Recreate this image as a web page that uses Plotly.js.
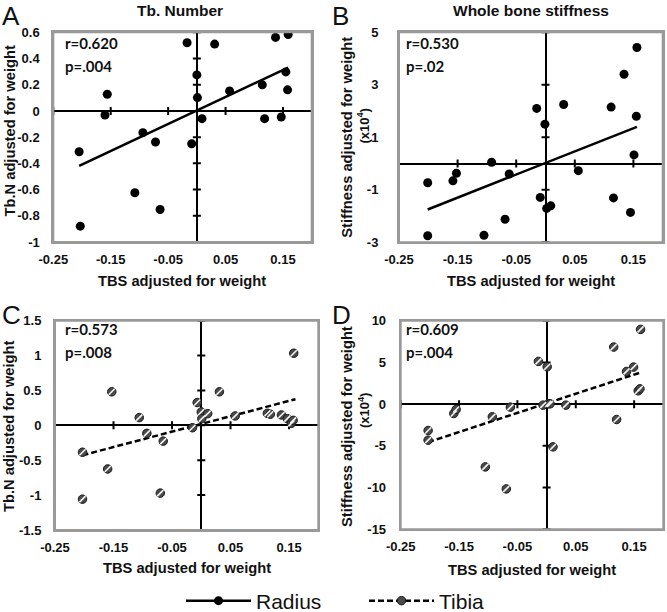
<!DOCTYPE html>
<html><head><meta charset="utf-8">
<script src="https://cdn.plot.ly/plotly-3.0.1.min.js"></script>
<style>html,body{margin:0;padding:0;background:#fff}#chart{width:667px;height:612px}</style>
</head><body><div id="chart"></div><script>
// ---- data ----
const xTicks = [-0.25, -0.15, -0.05, 0.05, 0.15];
const xTickText = ['-0.25', '-0.15', '-0.05', '0.05', '0.15'];

// A: Radius, Tb.N
const xA = [-0.203,-0.205,-0.156,-0.160,-0.094,-0.108,-0.072,-0.064,-0.017,-0.009,0.000,0.001,0.009,0.031,0.057,0.114,0.118,0.137,0.147,0.155,0.158,0.159];
const yA = [-0.879,-0.311,0.127,-0.031,-0.166,-0.624,-0.237,-0.752,0.520,-0.250,0.275,0.102,-0.059,0.510,0.153,0.199,-0.059,0.561,-0.046,0.298,0.161,0.583];
const trendXA = [-0.205, 0.159];
const trendYA = [-0.420, 0.331];
const yTicksA = [-1,-0.8,-0.6,-0.4,-0.2,0,0.2,0.4,0.6];
const yTickTextA = ['-1','-0.8','-0.6','-0.4','-0.2','0','0.2','0.4','0.6'];

// B: Radius, stiffness
const xB = [-0.201,-0.201,-0.158,-0.152,-0.105,-0.092,-0.069,-0.062,-0.015,-0.009,-0.001,0.002,0.009,0.031,0.056,0.112,0.116,0.134,0.145,0.151,0.155,0.156];
const yB = [-0.73,-2.75,-0.66,-0.37,-2.73,0.05,-2.12,-0.40,2.10,-1.29,1.50,-1.71,-1.61,2.25,-0.27,2.15,-1.31,3.40,-1.86,0.33,1.80,4.42];
const trendXB = [-0.201, 0.156];
const trendYB = [-1.75, 1.40];
const yTicksB = [-3,-1,1,3,5];
const yTickTextB = ['-3','-1','1','3','5'];

// C: Tibia, Tb.N
const xC = [-0.203,-0.203,-0.160,-0.153,-0.106,-0.093,-0.070,-0.065,-0.015,-0.007,0.000,0.001,0.011,0.031,0.058,0.113,0.118,0.137,0.147,0.154,0.157,0.158];
const yC = [-1.058,-0.385,-0.625,0.481,0.111,-0.115,-0.971,-0.226,-0.034,0.327,0.192,0.096,0.168,0.481,0.135,0.173,0.159,0.149,0.096,0.029,0.072,1.034];
const trendXC = [-0.203, 0.161];
const trendYC = [-0.428, 0.375];
const yTicksC = [-1.5,-1,-0.5,0,0.5,1,1.5];
const yTickTextC = ['-1.5','-1','-0.5','0','0.5','1','1.5'];

// D: Tibia, stiffness
const xD = [-0.203,-0.203,-0.159,-0.155,-0.105,-0.093,-0.069,-0.062,-0.014,-0.006,0.001,0.003,0.006,0.011,0.033,0.115,0.120,0.137,0.149,0.157,0.160,0.161];
const yD = [-3.16,-4.32,-1.12,-0.64,-7.52,-1.52,-10.16,-0.36,5.12,-0.12,4.48,0.04,0.04,-5.12,-0.12,6.84,-1.84,3.92,4.44,1.60,1.84,8.96];
const trendXD = [-0.203, 0.163];
const trendYD = [-4.56, 3.84];
const yTicksD = [-15,-10,-5,0,5,10];
const yTickTextD = ['-15','-10','-5','0','5','10'];

const stats = [['r=0.620','p=.004'],['r=0.530','p=.02'],['r=0.573','p=.008'],['r=0.609','p=.004']];
const panelTitles = ['Tb. Number','Whole bone stiffness'];
const panelLetters = ['A','B','C','D'];
const seriesNames = ['Radius','Tibia'];

// ---- layout geometry ----
const W = 667, H = 612;
const fx = p => p / W, fy = p => 1 - p / H;
const xRange = [-0.25, 0.2];

const panels = [
  {x:xA, y:yA, tx:trendXA, ty:trendYA, yr:[-1,0.6], yt:yTicksA, ytt:yTickTextA, box:[53.3,311.7,32.3,242], tibia:false, lstand:9},
  {x:xB, y:yB, tx:trendXB, ty:trendYB, yr:[-3,5], yt:yTicksB, ytt:yTickTextB, box:[399,662.7,32.3,242.3], tibia:false, lstand:16},
  {x:xC, y:yC, tx:trendXC, ty:trendYC, yr:[-1.5,1.5], yt:yTicksC, ytt:yTickTextC, box:[55,318.3,320.7,530], tibia:true, lstand:9},
  {x:xD, y:yD, tx:trendXD, ty:trendYD, yr:[-15,10], yt:yTicksD, ytt:yTickTextD, box:[400.7,663.3,320.7,529.3], tibia:true, lstand:10}
];

const tickFont = {family:'Liberation Sans, Arial, sans-serif', size:13, color:'#111', weight:'bold'};
const layout = {
  width: W, height: H,
  margin: {l:0, r:0, t:0, b:0, autoexpand:false},
  paper_bgcolor: '#fff', plot_bgcolor: 'rgba(0,0,0,0)',
  showlegend: true,
  legend: {orientation:'h', x: fx(181), xanchor:'left', y: fy(601), yanchor:'middle',
           itemwidth: 65, entrywidth: 103, entrywidthmode:'pixels',
           font:{family:'Liberation Sans, Arial, sans-serif', size:21, color:'#111'},
           bgcolor:'rgba(0,0,0,0)'},
  annotations: [],
  shapes: [],
  font: {family:'Liberation Sans, Arial, sans-serif'}
};
const traces = [];

panels.forEach((p, i) => {
  const n = i + 1;
  const xid = n === 1 ? 'x' : 'x' + n, yid = n === 1 ? 'y' : 'y' + n;
  const xk = n === 1 ? 'xaxis' : 'xaxis' + n, yk = n === 1 ? 'yaxis' : 'yaxis' + n;
  const xdom = [fx(p.box[0]), fx(p.box[1])];
  const ydom = [fy(p.box[3]), fy(p.box[2])];
  layout[xk] = {domain:xdom, range:xRange, anchor:yid, showline:true, mirror:'all', linecolor:'#999999', linewidth:2,
    ticks:'', tickvals:xTicks, ticktext:xTickText, tickfont:tickFont, ticklabelstandoff:4,
    showgrid:false, zeroline:true, zerolinecolor:'#000', zerolinewidth:2, fixedrange:true};
  layout[yk] = {domain:ydom, range:p.yr, anchor:xid, showline:true, mirror:'all', linecolor:'#999999', linewidth:2,
    ticks:'', tickvals:p.yt, ticktext:p.ytt, tickfont:tickFont, ticklabelstandoff:p.lstand,
    showgrid:false, zeroline:true, zerolinecolor:'#000', zerolinewidth:2, fixedrange:true};

  // plot frame (paper-referenced so it is never clipped)
  layout.shapes.push({type:'rect', layer:'above', xref:'paper', yref:'paper', x0:xdom[0], x1:xdom[1], y0:ydom[0], y1:ydom[1],
    line:{color:'#999999', width:2}, fillcolor:'rgba(0,0,0,0)'});
  // tick marks crossing the zero lines (from the tick arrays)
  xTicks.forEach(t => layout.shapes.push({type:'line', layer:'below', xref:xid, yref:yid, x0:t, x1:t,
    ysizemode:'pixel', yanchor:0, y0:-4, y1:4, line:{color:'#000', width:2}}));
  p.yt.forEach(t => layout.shapes.push({type:'line', layer:'below', xref:xid, yref:yid, y0:t, y1:t,
    xsizemode:'pixel', xanchor:0, x0:-4, x1:4, line:{color:'#000', width:2}}));

  // trend line
  traces.push({type:'scatter', mode:'lines', x:p.tx, y:p.ty, xaxis:xid, yaxis:yid, showlegend:false, hoverinfo:'skip',
    line:{color:'#000', width:2.5, dash: p.tibia ? '6px,3px' : 'solid'}});
  // points
  if (!p.tibia) {
    traces.push({type:'scatter', mode:'markers', x:p.x, y:p.y, xaxis:xid, yaxis:yid, showlegend:false,
      marker:{color:'#000', size:9}});
  } else {
    traces.push({type:'scatter', mode:'markers', x:p.x, y:p.y, xaxis:xid, yaxis:yid, showlegend:false,
      marker:{color:'#4a4a4a', size:8.5, line:{color:'#1a1a1a', width:1}}});
    traces.push({type:'scatter', mode:'markers', x:p.x, y:p.y, xaxis:xid, yaxis:yid, showlegend:false, hoverinfo:'skip',
      marker:{symbol:'line-ne', size:6, color:'#fff', line:{color:'#f4f4f4', width:1.6}}});
  }

  // stats text
  const sx = (i % 2 === 0) ? 63 : 404;
  const sy = (i < 2) ? [43, 66] : [329, 352];
  stats[i].forEach((s, j) => {
    layout.annotations.push({xref:'paper', yref:'paper', x:fx(sx), y:fy(sy[j]), xanchor:'left', yanchor:'middle',
      text:s, showarrow:false, font:{family:'Lato, Liberation Sans, sans-serif', size:15, color:'#111', weight:'bold'}});
  });
  // x title
  const xtc = [281, 280.7, 568.3, 570][i];
  layout.annotations.push({xref:'paper', yref:'paper', x:(xdom[0]+xdom[1])/2, y:fy(xtc), xanchor:'center', yanchor:'middle',
    text:'TBS adjusted for weight', showarrow:false, font:{family:'Liberation Sans, Arial, sans-serif', size:14.7, color:'#111', weight:'bold'}});
  // panel letter
  layout.annotations.push({xref:'paper', yref:'paper', x:fx(i % 2 === 0 ? 0 : 330), y:fy(i < 2 ? 15.5 : 315), xanchor:'left', yanchor:'middle',
    text:panelLetters[i], showarrow:false, font:{family:'Liberation Sans, Arial, sans-serif', size:26, color:'#111'}});
});

// y titles
const ytFont = {family:'Liberation Sans, Arial, sans-serif', size:14.7, color:'#111', weight:'bold'};
layout.annotations.push({xref:'paper', yref:'paper', x:fx(9), y:fy(131.5), textangle:-90, xanchor:'center', yanchor:'middle',
  text:'Tb.N adjusted for weight', showarrow:false, font:ytFont});
layout.annotations.push({xref:'paper', yref:'paper', x:fx(9), y:fy(427), textangle:-90, xanchor:'center', yanchor:'middle',
  text:'Tb.N adjusted for weight', showarrow:false, font:ytFont});
[[137.7,125.5],[427,410]].forEach(c => {
  layout.annotations.push({xref:'paper', yref:'paper', x:fx(347), y:fy(c[0]), textangle:-90, xanchor:'center', yanchor:'middle',
    text:'Stiffness adjusted for weight', showarrow:false, font:ytFont});
  layout.annotations.push({xref:'paper', yref:'paper', x:fx(364), y:fy(c[1]), textangle:-90, xanchor:'center', yanchor:'middle',
    text:'(x10<sup>4</sup>)', showarrow:false, font:{family:'Liberation Sans, Arial, sans-serif', size:13, color:'#111', weight:'bold'}});
});
// panel titles
[[180, panelTitles[0]], [530.8, panelTitles[1]]].forEach(t => {
  layout.annotations.push({xref:'paper', yref:'paper', x:fx(t[0]), y:fy(10), xanchor:'center', yanchor:'middle',
    text:t[1], showarrow:false, font:{family:'Liberation Sans, Arial, sans-serif', size:15.5, color:'#111', weight:'bold'}});
});

// legend entries
traces.push({type:'scatter', mode:'lines+markers', x:[null], y:[null], name:seriesNames[0], showlegend:true,
  line:{color:'#000', width:2.5}, marker:{color:'#000', size:9}});
traces.push({type:'scatter', mode:'lines+markers', x:[null], y:[null], name:seriesNames[1], showlegend:true,
  line:{color:'#000', width:2.5, dash:'6px,3px'}, marker:{color:'#4a4a4a', size:8.5, line:{color:'#1a1a1a', width:1}}});

Plotly.newPlot('chart', traces, layout, {displayModeBar:false, staticPlot:true});
</script></body></html>
